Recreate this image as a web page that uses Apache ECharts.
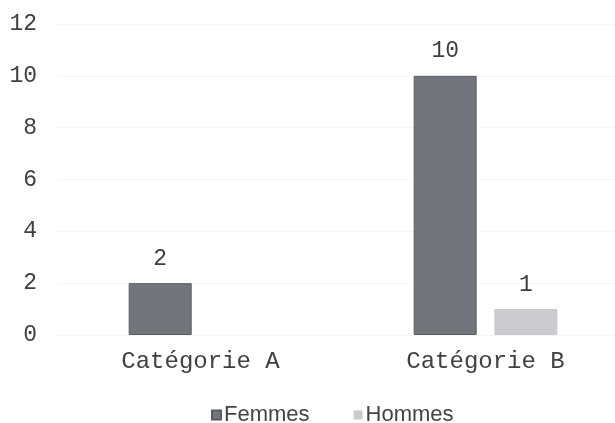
<!DOCTYPE html>
<html>
<head>
<meta charset="utf-8">
<script src="https://cdn.jsdelivr.net/npm/echarts@6/dist/echarts.min.js"></script>
<style>
  html, body { margin: 0; padding: 0; background: #fff; }
</style>
</head>
<body>
<div id="main" style="width: 615px; height: 423px"></div>
<script>
var categories = ["Catégorie A", "Catégorie B"];
var femmes = [2, 10];
var hommes = ["-", 1];
var yTicks = [0, 2, 4, 6, 8, 10, 12];

var chart = echarts.init(document.getElementById("main"));

var mono = "Liberation Mono";

var option = {
  animation: false,
  backgroundColor: "#fff",
  grid: {
    left: 58,
    top: 24,
    width: 570,
    height: 311,
    outerBoundsMode: "none",
  },
  legend: {
    left: 206,
    top: 399,
    itemWidth: 9,
    itemHeight: 9,
    itemGap: 44,
    icon: "rect",
    textStyle: {
      fontFamily: "Liberation Sans",
      fontSize: 22,
      color: "#444",
      padding: [0, 0, 0, -2],
    },
    data: ["Femmes", "Hommes"],
  },
  xAxis: {
    type: "category",
    data: categories,
    axisLine: { show: false },
    axisTick: { show: false },
    axisLabel: {
      fontFamily: mono,
      fontSize: 24,
      color: "#404040",
      margin: 15,
    },
  },
  yAxis: {
    type: "value",
    min: yTicks[0],
    max: yTicks[yTicks.length - 1],
    interval: 2,
    axisLine: { show: false },
    axisTick: { show: false },
    splitLine: { lineStyle: { color: "#f6f6f6", width: 1 } },
    axisLabel: {
      fontFamily: mono,
      fontSize: 23,
      color: "#404040",
      margin: 21,
    },
  },
  series: [
    {
      name: "Femmes",
      type: "bar",
      data: femmes,
      barWidth: 63,
      barGap: "28%",
      itemStyle: { color: "#72767c", borderColor: "#5a5d62", borderWidth: 1 },
      label: {
        show: true,
        position: "top",
        distance: 13,
        fontFamily: mono,
        fontSize: 23,
        color: "#404040",
      },
    },
    {
      name: "Hommes",
      type: "bar",
      data: hommes,
      barWidth: 63,
      itemStyle: { color: "#c9cbce" },
      label: {
        show: true,
        position: "top",
        distance: 13,
        fontFamily: mono,
        fontSize: 23,
        color: "#404040",
      },
    },
  ],
};

chart.setOption(option);
</script>
</body>
</html>
